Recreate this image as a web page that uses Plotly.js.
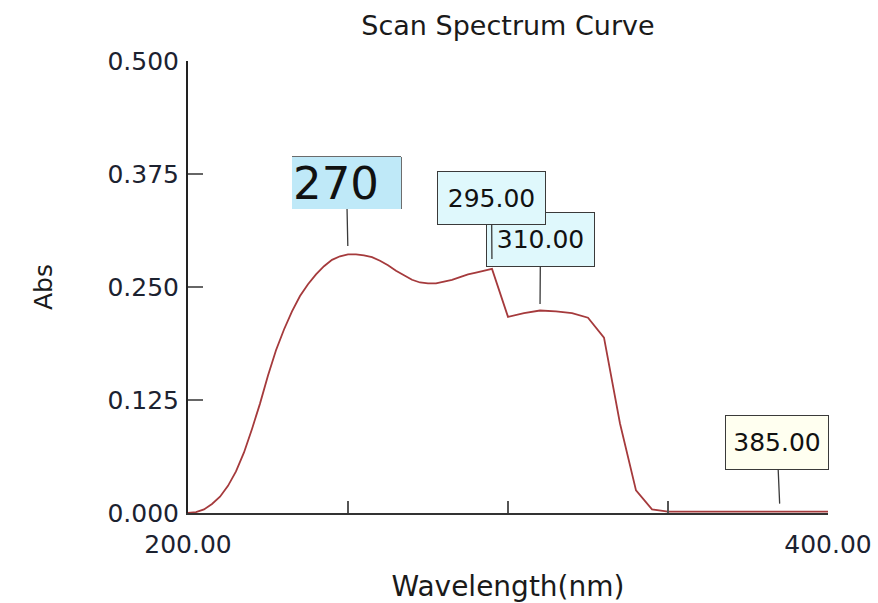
<!DOCTYPE html>
<html>
<head>
<meta charset="utf-8">
<script src="https://cdn.plot.ly/plotly-3.0.1.min.js"></script>
<style>html,body{margin:0;padding:0;background:#fff;}#chart{width:878px;height:603px;}</style>
</head>
<body>
<div id="chart"></div>
<script>
// Wavelength (nm) and absorbance
var wavelength = [200,202.5,205,207.5,210,212.5,215,217.5,220,222.5,225,227.5,230,232.5,235,237.5,240,242.5,245,247.5,
                  250,252.5,255,257.5,260,262.5,265,267.5,270,272.5,275,277.5,280,282.5,285,287.5,290,292.5,295,
                  300,305,310,315,320,325,330,335,340,345,350,355,360,365,370,375,380,385,390,395,400];
var absorbance = [0.000,0.001,0.004,0.010,0.018,0.030,0.046,0.067,0.093,0.121,0.152,0.180,0.203,0.223,0.240,0.253,0.264,0.273,0.280,0.284,
                  0.286,0.286,0.285,0.283,0.279,0.274,0.268,0.263,0.258,0.255,0.254,0.254,0.256,0.258,0.261,0.264,0.266,0.268,0.270,
                  0.217,0.221,0.224,0.223,0.221,0.216,0.194,0.099,0.025,0.004,0.0015,0.0015,0.0015,0.0015,0.0015,0.0015,0.0015,0.0015,0.0015,0.0015,0.0015];

// Peak labels (drawing order: later ones on top)
var labelX    = [250, 310, 295, 385];
var labelText = ['270', '310.00', '295.00', '385.00'];

// Axis ticks
var xTickVals = [200, 250, 300, 350, 400];
var xTickText = ['200.00', '', '', '', '400.00'];
var yTickVals = [0, 0.125, 0.25, 0.375, 0.5];
var yTickText = ['0.000', '0.125', '0.250', '0.375', '0.500'];

var FONT = 'DejaVu Sans, Verdana, sans-serif';

function absAt(w) { return absorbance[wavelength.indexOf(w)]; }

var labelStyle = {
  '270':    {size: 45, bg: '#bfe9f8', border: 'rgba(0,0,0,0)', bw: 0, bp: 1, w: 107, h: 50, ax: -1.5, ay: -71.5, standoff: 8.5, align: 'left'},
  '310.00': {size: 25, bg: '#dff8fc', border: '#3a3a3a', bw: 1, bp: 0, w: 107, h: 53, ax: 0.5, ay: -71, standoff: 6.5, align: 'center'},
  '295.00': {size: 25, bg: '#dff8fc', border: '#3a3a3a', bw: 1, bp: 0, w: 107, h: 52, ax: -0.5, ay: -71, standoff: 10, align: 'center'},
  '385.00': {size: 25, bg: '#fffff0', border: '#3a3a3a', bw: 1, bp: 0, w: 102, h: 53, ax: -3, ay: -69.5, standoff: 8, align: 'center'}
};

var annotations = labelX.map(function (x, i) {
  var s = labelStyle[labelText[i]];
  return {
    x: x, y: absAt(x), xref: 'x', yref: 'y',
    text: labelText[i], showarrow: true, arrowhead: 0, arrowwidth: 1.3, arrowcolor: '#3a3a3a',
    ax: s.ax, ay: s.ay, standoff: s.standoff,
    width: s.w, height: s.h, align: s.align, valign: 'middle',
    bgcolor: s.bg, bordercolor: s.border, borderwidth: s.bw, borderpad: s.bp,
    font: {family: FONT, size: s.size, color: '#111'}
  };
});

var trace = {
  x: wavelength, y: absorbance, type: 'scatter', mode: 'lines',
  line: {color: '#a53a3c', width: 1.8},
  hoverinfo: 'x+y', showlegend: false
};

var layout = {
  width: 878, height: 603,
  margin: {l: 188, r: 50, t: 61, b: 90},
  paper_bgcolor: '#ffffff', plot_bgcolor: '#ffffff',
  title: {text: 'Scan Spectrum Curve', font: {family: FONT, size: 27, color: '#1a1a1a'},
          x: 0.5, xref: 'paper', xanchor: 'center', y: 0.957, yref: 'container', yanchor: 'middle'},
  xaxis: {
    range: [200, 400], tickvals: xTickVals, ticktext: xTickText,
    ticks: 'inside', ticklen: 12, tickwidth: 2, tickcolor: '#555',
    showline: true, linecolor: '#333', linewidth: 2, mirror: false,
    showgrid: false, zeroline: false, ticklabelstandoff: 8,
    tickfont: {family: FONT, size: 25, color: '#1c2230'},
    title: {text: 'Wavelength(nm)', font: {family: FONT, size: 28, color: '#1a1a1a'}, standoff: 20}
  },
  yaxis: {
    range: [0, 0.5], tickvals: yTickVals, ticktext: yTickText,
    ticks: 'inside', ticklen: 15, tickwidth: 2, tickcolor: '#666',
    showline: true, linecolor: '#222', linewidth: 2,
    showgrid: false, zeroline: false, ticklabelstandoff: 2,
    tickfont: {family: FONT, size: 25, color: '#1c2230'},
    title: {text: 'Abs', font: {family: FONT, size: 25, color: '#1a1a1a'}, standoff: 48}
  },
  annotations: annotations,
  shapes: [
    // top and right edge of the "270" label box
    {type: 'line', xref: 'paper', yref: 'paper', x0: 0.1625, x1: 0.3328, y0: 0.7876, y1: 0.7876, line: {color: '#3a3a3a', width: 1.5}},
    {type: 'line', xref: 'paper', yref: 'paper', x0: 0.3328, x1: 0.3328, y0: 0.7876, y1: 0.6726, line: {color: '#3a3a3a', width: 1.5}}
  ]
};

Plotly.newPlot('chart', [trace], layout, {displayModeBar: false, staticPlot: true});
</script>
</body>
</html>
